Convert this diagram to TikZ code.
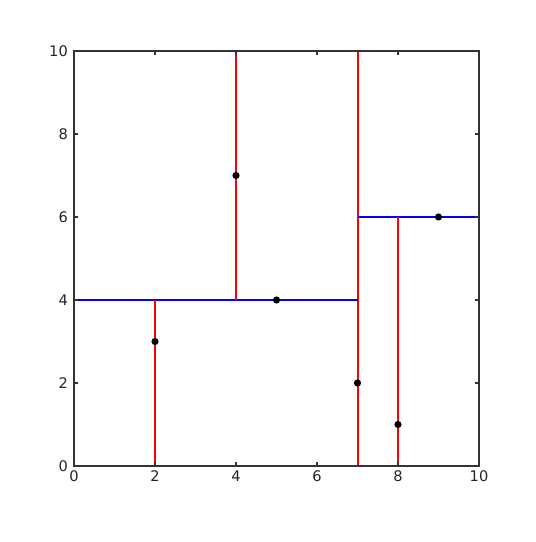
\documentclass[tikz,border=0pt]{standalone}
\usepackage{fontspec}
\setmainfont{DejaVu Sans}
\usepackage{tikz}
\usetikzlibrary{positioning}

\begin{document}
\begin{tikzpicture}[
  x=1.071563cm, y=1.098021cm,
  frame/.style={draw=black!80, line width=1pt},
  tick/.style={draw=black!80, line width=0.8pt},
  ticklabel/.style={font=\fontsize{11}{13}\selectfont, text=black!85, inner sep=2pt},
  splitx/.style={draw=red, line width=1.5pt},
  splity/.style={draw=blue, line width=1.5pt},
  pt/.style={circle, fill=black, inner sep=0pt, minimum size=0.19cm}
]
\useasboundingbox (-1.827160,-1.831325) rectangle (11.407407,11.228916);

% splitting lines
\draw[splitx] (7,0) -- (7,10);
\draw[splity] (0,4) -- (7,4);
\draw[splity] (7,6) -- (10,6);
\draw[splitx] (2,0) -- (2,4);
\draw[splitx] (4,4) -- (4,10);
\draw[splitx] (8,0) -- (8,6);

% axes box and ticks
\draw[frame] (0,0) rectangle (10,10);
\foreach \v in {0,2,...,10} {
  \draw[tick] (\v,0) -- ++(0,0.1);
  \draw[tick] (\v,10) -- ++(0,-0.1);
  \draw[tick] (0,\v) -- ++(0.1,0);
  \draw[tick] (10,\v) -- ++(-0.1,0);
  \node[ticklabel, below] (xl\v) at (\v,-0.05) {\v};
  \node[ticklabel, left] (yl\v) at (-0.08,\v) {\v};
}

% data points
\node[pt] (p1) at (2,3) {};
\node[pt] (p2) at (5,4) {};
\node[pt] (p3) at (9,6) {};
\node[pt] (p4) at (4,7) {};
\node[pt] (p5) at (8,1) {};
\node[pt] (p6) at (7,2) {};
\end{tikzpicture}
\end{document}
